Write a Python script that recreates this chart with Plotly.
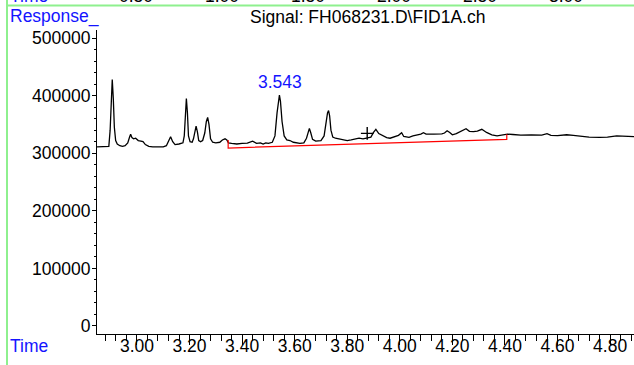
import plotly.graph_objects as go

# ---------------- data ----------------
time_min = [
    2.848, 2.880, 2.893, 2.898, 2.902, 2.906, 2.910, 2.914, 2.919, 2.925,
    2.935, 2.945, 2.955, 2.965, 2.972, 2.976, 2.981, 2.987, 2.995, 3.005,
    3.015, 3.023, 3.032, 3.045, 3.060, 3.080, 3.100, 3.112, 3.120, 3.128,
    3.136, 3.145, 3.160, 3.175, 3.180, 3.184, 3.188, 3.192, 3.196, 3.202,
    3.210, 3.215, 3.220, 3.225, 3.230, 3.235, 3.242, 3.250, 3.258, 3.264,
    3.269, 3.274, 3.280, 3.288, 3.300, 3.315, 3.325, 3.335, 3.342, 3.348,
    3.360, 3.380, 3.400, 3.420, 3.440, 3.455, 3.470, 3.480, 3.490, 3.500,
    3.515, 3.525, 3.533, 3.538, 3.542, 3.546, 3.552, 3.560, 3.570, 3.582,
    3.595, 3.620, 3.635, 3.645, 3.651, 3.656, 3.661, 3.668, 3.680, 3.700,
    3.712, 3.720, 3.725, 3.729, 3.733, 3.738, 3.745, 3.755, 3.770, 3.790,
    3.800, 3.815, 3.830, 3.845, 3.860, 3.875, 3.890, 3.900, 3.909, 3.920,
    3.935, 3.950, 3.963, 3.980, 3.995, 4.007, 4.015, 4.025, 4.035, 4.050,
    4.065, 4.080, 4.090, 4.100, 4.130, 4.160, 4.170, 4.180, 4.190, 4.200,
    4.215, 4.235, 4.252, 4.265, 4.280, 4.295, 4.312, 4.330, 4.350, 4.370,
    4.385, 4.394, 4.410, 4.430, 4.460, 4.500, 4.540, 4.560, 4.575, 4.600,
    4.620, 4.635, 4.660, 4.700, 4.720, 4.760, 4.790, 4.825, 4.850, 4.876,
    4.900,
]
response = [
    311000, 311000, 312000, 340000, 395000, 428000, 395000, 345000, 322000, 316000,
    313000, 312000, 313000, 318000, 328000, 333000, 327000, 325000, 326000, 322000,
    321000, 320000, 315000, 312000, 311000, 311500, 311000, 313000, 320000, 328700,
    320000, 315000, 316000, 318000, 330000, 370000, 395000, 370000, 330000, 320000,
    319000, 325000, 340000, 347000, 337000, 322000, 320000, 322000, 335000, 355000,
    362000, 350000, 325000, 319000, 318000, 319000, 323000, 325000, 323000, 318000,
    317000, 316000, 317000, 317500, 321000, 317000, 318000, 316000, 318000, 317000,
    319000, 330000, 370000, 395000, 401000, 390000, 355000, 330000, 323000, 322000,
    319000, 317000, 318000, 326000, 338000, 343000, 336000, 324000, 321000, 322000,
    330000, 355000, 370000, 374000, 365000, 340000, 328000, 326000, 324500, 323000,
    322000, 323000, 325000, 326000, 325000, 327000, 328000, 336000, 341500, 334000,
    330000, 327000, 326000, 328000, 331000, 335600, 329000, 328500, 327600, 330000,
    331000, 333000, 335600, 333000, 333000, 333500, 335000, 339000, 336000, 332000,
    334000, 338000, 342600, 338000, 337500, 338500, 341500, 336000, 332000, 330000,
    331000, 332000, 333000, 332500, 331500, 331600, 331500, 334000, 331000, 330400,
    330800, 332000, 331000, 329000, 328000, 327600, 328000, 330000, 329500, 328700,
    328500,
]

# integration baseline (red): drop line, baseline, drop line
baseline_t = [3.347, 3.347, 4.407, 4.407]
baseline_v = [323000, 309000, 324000, 333000]

peak_label_t = 3.543
peak_label_v = 401000
peak_label = "3.543"

cross_t = [3.876]
cross_v = [334500]

x_ticks = [3.00, 3.20, 3.40, 3.60, 3.80, 4.00, 4.20, 4.40, 4.60, 4.80]
y_ticks = [0, 100000, 200000, 300000, 400000, 500000]

title_text = "Signal: FH068231.D\\FID1A.ch"
y_title = "Response_"
x_title = "Time"
# partly visible axis of the chart above (cut off at the top of the picture)
top_tick_values = [0.50, 1.00, 1.50, 2.00, 2.50, 3.00]

# ---------------- layout geometry ----------------
W, H = 634, 365
ML, MR, MT, MB = 97, 0, 30, 31
PW, PH = W - ML - MR, H - MT - MB
FONT = "Arial, Liberation Sans, Helvetica, sans-serif"
FS = 17.5
BLUE = "#1414ff"


def px_x(px):
    return (px - ML) / PW


def px_y(py):
    return (H - MB - py) / PH


fig = go.Figure()

fig.add_trace(go.Scatter(
    x=time_min, y=response, mode="lines",
    line=dict(color="black", width=1.3), hoverinfo="skip", showlegend=False,
))
fig.add_trace(go.Scatter(
    x=baseline_t, y=baseline_v, mode="lines",
    line=dict(color="red", width=1.2), hoverinfo="skip", showlegend=False,
))
fig.add_trace(go.Scatter(
    x=cross_t, y=cross_v, mode="markers",
    marker=dict(symbol="cross-thin", size=9, line=dict(color="black", width=1.4)),
    hoverinfo="skip", showlegend=False,
))

annotations = [
    dict(x=peak_label_t, y=peak_label_v, xref="x", yref="y", text=peak_label,
         showarrow=False, yanchor="bottom", yshift=1,
         font=dict(family=FONT, size=FS, color=BLUE)),
    dict(x=px_x(8), y=px_y(17), xref="paper", yref="paper", text=y_title,
         showarrow=False, xanchor="left", yanchor="middle",
         font=dict(family=FONT, size=FS, color=BLUE)),
    dict(x=px_x(8), y=px_y(346), xref="paper", yref="paper", text=x_title,
         showarrow=False, xanchor="left", yanchor="middle",
         font=dict(family=FONT, size=FS, color=BLUE)),
    dict(x=px_x(367), y=px_y(17), xref="paper", yref="paper", text=title_text,
         showarrow=False, xanchor="center", yanchor="middle",
         font=dict(family=FONT, size=FS, color="black")),
    # cut-off labels of the chart above
    dict(x=px_x(8), y=px_y(-4), xref="paper", yref="paper", text=x_title,
         showarrow=False, xanchor="left", yanchor="middle",
         font=dict(family=FONT, size=FS, color=BLUE)),
]
for v in top_tick_values:
    annotations.append(dict(
        x=px_x(136 + (v - 0.5) * 172), y=px_y(-4), xref="paper", yref="paper",
        text=f"{v:.2f}", showarrow=False, xanchor="center", yanchor="middle",
        font=dict(family=FONT, size=FS, color="black")))

shapes = [
    dict(type="line", xref="paper", yref="paper", x0=px_x(7), x1=px_x(7),
         y0=px_y(H + 5), y1=px_y(-5), line=dict(color="#8ef08e", width=2)),
    dict(type="line", xref="paper", yref="paper", x0=px_x(7), x1=1.0,
         y0=px_y(5.5), y1=px_y(5.5), line=dict(color="#8ef08e", width=2)),
]

fig.update_layout(
    width=W, height=H,
    margin=dict(l=ML, r=MR, t=MT, b=MB, pad=0),
    paper_bgcolor="white", plot_bgcolor="white",
    font=dict(family=FONT, size=FS, color="black"),
    annotations=annotations, shapes=shapes,
    xaxis=dict(
        range=[2.848, 4.891], showgrid=False, zeroline=False,
        showline=True, linecolor="black", linewidth=1,
        tickmode="array", tickvals=x_ticks, ticktext=[f"{t:.2f}" for t in x_ticks],
        ticks="outside", ticklen=10, tickwidth=1, tickcolor="black",
        ticklabelstandoff=-14,
        minor=dict(dtick=0.04, tick0=3.0, ticks="outside", ticklen=6,
                   tickwidth=1, tickcolor="black", showgrid=False),
        tickfont=dict(family=FONT, size=FS, color="black"),
    ),
    yaxis=dict(
        range=[-13900, 513900], showgrid=False, zeroline=False,
        showline=True, linecolor="black", linewidth=1,
        tickmode="array", tickvals=y_ticks, ticktext=[str(v) for v in y_ticks],
        ticks="outside", ticklen=4, tickwidth=1, tickcolor="black",
        ticklabelstandoff=-2,
        minor=dict(dtick=20000, tick0=0, ticks="outside", ticklen=2,
                   tickwidth=1, tickcolor="black", showgrid=False),
        tickfont=dict(family=FONT, size=FS, color="black"),
    ),
)

fig.write_html("out.html")
